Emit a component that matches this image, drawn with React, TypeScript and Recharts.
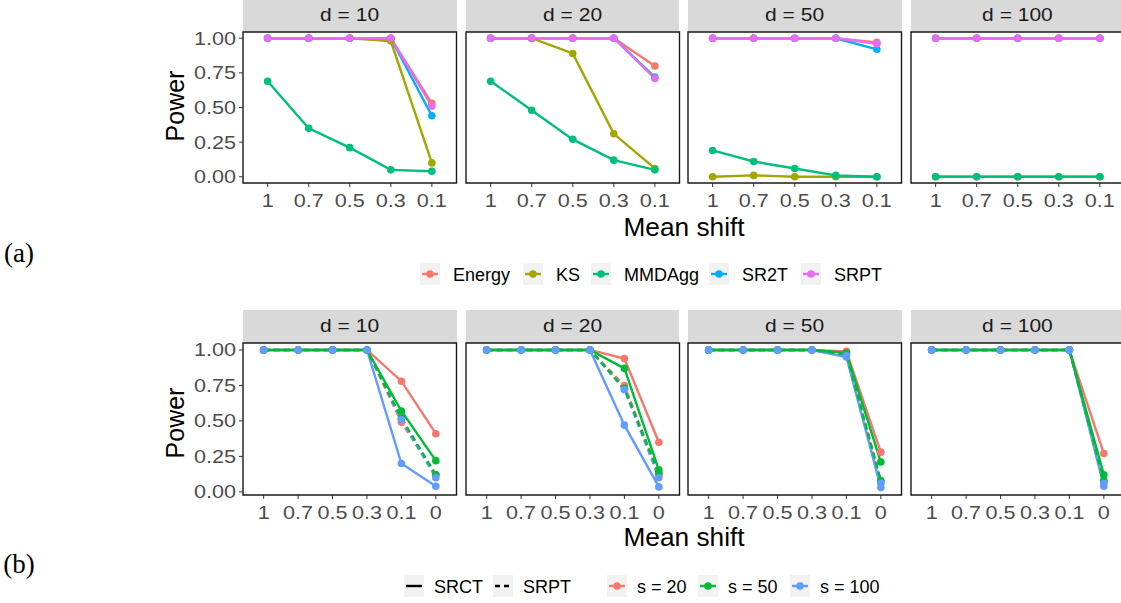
import React from 'react';
import { LineChart, Line, XAxis, YAxis, ReferenceArea } from 'recharts';

const FACETS = ['d = 10', 'd = 20', 'd = 50', 'd = 100'];
const SHIFTS_A = ['1', '0.7', '0.5', '0.3', '0.1'];
const SHIFTS_B = ['1', '0.7', '0.5', '0.3', '0.1', '0'];
const POWER_TICKS = [0, 0.25, 0.5, 0.75, 1];

// (a) one row per facet: d = 10, 20, 50, 100
const energy = [
  [1, 1, 1, 1, 0.53],
  [1, 1, 1, 1, 0.8],
  [1, 1, 1, 1, 0.97],
  [1, 1, 1, 1, 1],
];
const ks = [
  [1, 1, 1, 0.98, 0.1],
  [1, 1, 0.89, 0.31, 0.06],
  [0, 0.01, 0, 0, 0],
  [0, 0, 0, 0, 0],
];
const mmdagg = [
  [0.69, 0.35, 0.21, 0.05, 0.04],
  [0.69, 0.48, 0.27, 0.12, 0.05],
  [0.19, 0.11, 0.06, 0.01, 0],
  [0, 0, 0, 0, 0],
];
const sr2t = [
  [1, 1, 1, 1, 0.44],
  [1, 1, 1, 1, 0.72],
  [1, 1, 1, 1, 0.92],
  [1, 1, 1, 1, 1],
];
const srptA = [
  [1, 1, 1, 1, 0.51],
  [1, 1, 1, 1, 0.71],
  [1, 1, 1, 1, 0.96],
  [1, 1, 1, 1, 1],
];

// (b) SRCT (solid) and SRPT (dashed) for s = 20, 50, 100
const srct20 = [
  [1, 1, 1, 1, 0.78, 0.41],
  [1, 1, 1, 1, 0.94, 0.35],
  [1, 1, 1, 1, 0.99, 0.28],
  [1, 1, 1, 1, 1, 0.27],
];
const srct50 = [
  [1, 1, 1, 1, 0.57, 0.22],
  [1, 1, 1, 1, 0.87, 0.155],
  [1, 1, 1, 1, 0.98, 0.21],
  [1, 1, 1, 1, 1, 0.12],
];
const srct100 = [
  [1, 1, 1, 1, 0.2, 0.04],
  [1, 1, 1, 1, 0.47, 0.035],
  [1, 1, 1, 1, 0.95, 0.03],
  [1, 1, 1, 1, 1, 0.04],
];
const srpt20 = [
  [1, 1, 1, 1, 0.49, 0.12],
  [1, 1, 1, 1, 0.75, 0.12],
  [1, 1, 1, 1, 0.98, 0.07],
  [1, 1, 1, 1, 1, 0.07],
];
const srpt50 = [
  [1, 1, 1, 1, 0.52, 0.12],
  [1, 1, 1, 1, 0.73, 0.13],
  [1, 1, 1, 1, 0.97, 0.08],
  [1, 1, 1, 1, 1, 0.08],
];
const srpt100 = [
  [1, 1, 1, 1, 0.51, 0.1],
  [1, 1, 1, 1, 0.72, 0.1],
  [1, 1, 1, 1, 0.96, 0.06],
  [1, 1, 1, 1, 1, 0.06],
];

type Series = { key: string; color: string; dashed: boolean; values: number[][] };

const RED = '#F8766D';
const GREEN = '#00BA38';
const BLUE = '#619CFF';

const SERIES_A: Series[] = [
  { key: 'Energy', color: '#F8766D', dashed: false, values: energy },
  { key: 'KS', color: '#A3A500', dashed: false, values: ks },
  { key: 'MMDAgg', color: '#00BF7D', dashed: false, values: mmdagg },
  { key: 'SR2T', color: '#00B0F6', dashed: false, values: sr2t },
  { key: 'SRPT', color: '#E76BF3', dashed: false, values: srptA },
];

const SERIES_B: Series[] = [
  { key: 'srct20', color: RED, dashed: false, values: srct20 },
  { key: 'srpt20', color: RED, dashed: true, values: srpt20 },
  { key: 'srct100', color: BLUE, dashed: false, values: srct100 },
  { key: 'srpt100', color: BLUE, dashed: true, values: srpt100 },
  { key: 'srct50', color: GREEN, dashed: false, values: srct50 },
  { key: 'srpt50', color: GREEN, dashed: true, values: srpt50 },
];
// point layer order (all points go on top of the lines)
const POINTS_B = ['srct20', 'srpt20', 'srct50', 'srpt50', 'srct100', 'srpt100'];

const FONT = '"Liberation Sans", Arial, Helvetica, sans-serif';
const STRETCH = 1.2; // axis text in the figure is a bit wide
const PANEL_X = [243, 465.5, 688, 910.5];
const PANEL_W = 213.5;
const PAD_TOP = 12;

type Row = {
  labels: string[];
  series: Series[];
  pointOrder: string[];
  yDomain: [number, number];
  stripTop: number;
  panelTop: number;
  panelH: number;
};

const ROW_A: Row = {
  labels: SHIFTS_A,
  series: SERIES_A,
  pointOrder: SERIES_A.map((s) => s.key),
  yDomain: [-0.045, 1.045],
  stripTop: -1,
  panelTop: 32,
  panelH: 151,
};

const ROW_B: Row = {
  labels: SHIFTS_B,
  series: SERIES_B,
  pointOrder: POINTS_B,
  yDomain: [-0.022, 1.049],
  stripTop: 310,
  panelTop: 343,
  panelH: 152,
};

const makeTick = (fmt: (v: number) => string, anchor: string, dy: string) => (props: any) => {
  const { x, y, payload } = props;
  return (
    <text
      transform={`translate(${x},${y}) scale(${STRETCH},1)`}
      textAnchor={anchor}
      dy={dy}
      fill="#4D4D4D"
      fontSize={18}
      fontFamily={FONT}
    >
      {fmt(payload.value)}
    </text>
  );
};

const yTick = makeTick((v) => v.toFixed(2), 'end', '0.355em');

function Facet({ row, f }: { row: Row; f: number }) {
  const x0 = PANEL_X[f];
  const first = f === 0;
  const n = row.labels.length;
  const data = row.labels.map((_, i) => {
    const o: Record<string, number> = { x: i };
    row.series.forEach((s) => {
      o[s.key] = s.values[f][i];
    });
    return o;
  });
  const byKey = (k: string) => row.series.find((s) => s.key === k)!;
  const xTick = makeTick((v) => row.labels[v], 'middle', '0.71em');

  return (
    <>
      <div
        style={{
          position: 'absolute',
          left: x0,
          top: row.stripTop,
          width: PANEL_W,
          height: row.panelTop - row.stripTop,
          background: '#D9D9D9',
          color: '#1A1A1A',
          fontFamily: FONT,
          fontSize: 17.5,
          display: 'flex',
          alignItems: 'center',
          justifyContent: 'center',
        }}
      >
        <span style={{ display: 'inline-block', transform: `scaleX(${STRETCH})` }}>{FACETS[f]}</span>
      </div>
      <div style={{ position: 'absolute', left: x0 - 70, top: row.panelTop - PAD_TOP }}>
        <LineChart
          width={70 + PANEL_W + 4}
          height={row.panelH + PAD_TOP + 40}
          data={data}
          margin={{ top: PAD_TOP, right: 4, bottom: 0, left: first ? 0 : 70 }}
        >
          <XAxis
            dataKey="x"
            type="number"
            domain={[-0.6, n - 0.4]}
            ticks={row.labels.map((_, i) => i)}
            interval={0}
            allowDataOverflow
            axisLine={false}
            tickLine={{ stroke: '#333333' }}
            tickSize={4}
            tickMargin={7}
            height={40}
            tick={xTick}
          />
          <YAxis
            type="number"
            domain={row.yDomain}
            ticks={POWER_TICKS}
            interval={0}
            allowDataOverflow
            hide={!first}
            width={70}
            axisLine={false}
            tickLine={{ stroke: '#333333' }}
            tickSize={4}
            tickMargin={3}
            tick={yTick}
          />
          <ReferenceArea
            x1={-0.6}
            x2={n - 0.4}
            y1={row.yDomain[0]}
            y2={row.yDomain[1]}
            fill="none"
            stroke="#1A1A1A"
            strokeWidth={1.4}
            ifOverflow="visible"
          />
          {row.series.map((s) => (
            <Line
              key={'l-' + s.key}
              type="linear"
              dataKey={s.key}
              stroke={s.color}
              strokeWidth={2.4}
              strokeDasharray={s.dashed ? '6 4' : undefined}
              dot={false}
              activeDot={false}
              isAnimationActive={false}
            />
          ))}
          {row.pointOrder.map((k) => {
            const s = byKey(k);
            return (
              <Line
                key={'p-' + k}
                type="linear"
                dataKey={k}
                stroke="none"
                dot={{ r: 3.8, fill: s.color, stroke: 'none' }}
                activeDot={false}
                isAnimationActive={false}
              />
            );
          })}
        </LineChart>
      </div>
    </>
  );
}

function Text({ x, y, size, children, family, sx }: any) {
  return (
    <div
      style={{
        position: 'absolute',
        left: x,
        top: y,
        transform: `translate(-50%, -50%)${sx ? ` scaleX(${sx})` : ''}`,
        fontFamily: family || FONT,
        fontSize: size,
        color: '#000',
        whiteSpace: 'nowrap',
        lineHeight: 1,
      }}
    >
      {children}
    </div>
  );
}

function VText({ x, y, size, children }: any) {
  return (
    <div
      style={{
        position: 'absolute',
        left: x,
        top: y,
        writingMode: 'vertical-rl',
        transform: 'translate(-50%, -50%) rotate(180deg)',
        fontFamily: FONT,
        fontSize: size,
        color: '#000',
        whiteSpace: 'nowrap',
        lineHeight: 1,
      }}
    >
      {children}
    </div>
  );
}

function PointKey({ x, y, color }: { x: number; y: number; color: string }) {
  return (
    <svg style={{ position: 'absolute', left: x, top: y }} width={20} height={22}>
      <rect x={0} y={0} width={20} height={22} fill="#F2F2F2" />
      <line x1={2} y1={11} x2={18} y2={11} stroke={color} strokeWidth={2.4} />
      <circle cx={10} cy={11} r={3.8} fill={color} />
    </svg>
  );
}

function LineKey({ x, y, dashed }: { x: number; y: number; dashed: boolean }) {
  return (
    <svg style={{ position: 'absolute', left: x, top: y }} width={20} height={22}>
      <rect x={0} y={0} width={20} height={22} fill="#F2F2F2" />
      <line
        x1={2}
        y1={11}
        x2={18}
        y2={11}
        stroke="#000"
        strokeWidth={2.4}
        strokeDasharray={dashed ? '5 4' : undefined}
      />
    </svg>
  );
}

function LegendLabel({ x, y, children }: any) {
  return (
    <div
      style={{
        position: 'absolute',
        left: x,
        top: y,
        transform: 'translateY(-50%)',
        fontFamily: FONT,
        fontSize: 18,
        lineHeight: 1,
        whiteSpace: 'nowrap',
      }}
    >
      {children}
    </div>
  );
}

const LEGEND_A_X = [420, 523, 591, 709, 801];
const LEGEND_B_LINE_X = [404, 493];
const LEGEND_B_POINT_X = [607, 698, 790];
const SERIF = '"Liberation Serif", "DejaVu Serif", serif';

export default function App() {
  return (
    <div
      style={{
        position: 'absolute',
        left: 0,
        top: 0,
        width: 1121,
        height: 603,
        overflow: 'hidden',
        background: '#fff',
      }}
    >
      {FACETS.map((_, f) => (
        <Facet key={'a' + f} row={ROW_A} f={f} />
      ))}
      {FACETS.map((_, f) => (
        <Facet key={'b' + f} row={ROW_B} f={f} />
      ))}

      <VText x={175} y={106} size={25}>Power</VText>
      <VText x={175} y={423} size={25}>Power</VText>
      <Text x={684} y={227} size={25} sx={1.05}>Mean shift</Text>
      <Text x={684} y={537} size={25} sx={1.05}>Mean shift</Text>
      <Text x={19} y={253} size={27} family={SERIF}>(a)</Text>
      <Text x={19} y={564} size={27} family={SERIF}>(b)</Text>

      {SERIES_A.map((s, i) => (
        <React.Fragment key={'la' + s.key}>
          <PointKey x={LEGEND_A_X[i]} y={263} color={s.color} />
          <LegendLabel x={LEGEND_A_X[i] + 33} y={275}>{s.key}</LegendLabel>
        </React.Fragment>
      ))}

      {['SRCT', 'SRPT'].map((m, i) => (
        <React.Fragment key={'lb' + m}>
          <LineKey x={LEGEND_B_LINE_X[i]} y={575} dashed={i === 1} />
          <LegendLabel x={LEGEND_B_LINE_X[i] + 30} y={587}>{m}</LegendLabel>
        </React.Fragment>
      ))}
      {[
        ['s = 20', RED],
        ['s = 50', GREEN],
        ['s = 100', BLUE],
      ].map(([lab, c], i) => (
        <React.Fragment key={'ls' + lab}>
          <PointKey x={LEGEND_B_POINT_X[i]} y={575} color={c} />
          <LegendLabel x={LEGEND_B_POINT_X[i] + 30} y={587}>{lab}</LegendLabel>
        </React.Fragment>
      ))}
    </div>
  );
}
